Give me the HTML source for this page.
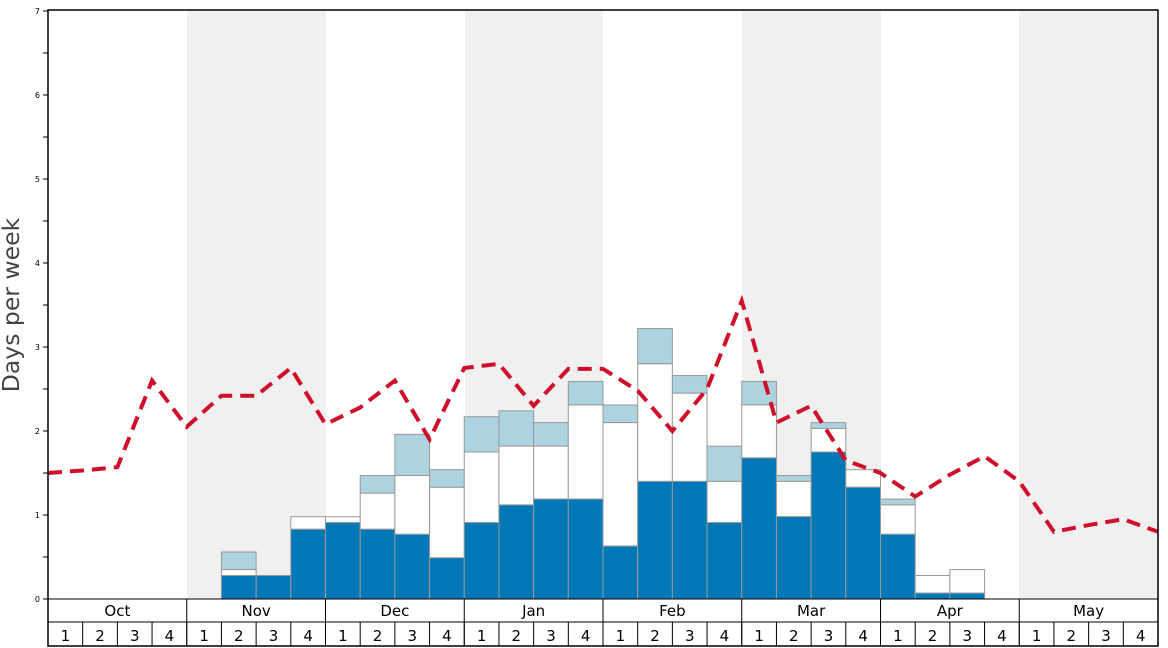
<!DOCTYPE html>
<html><head><meta charset="utf-8"><style>body{margin:0;background:#fff}svg{display:block}</style></head><body>
<svg width="1168" height="648" viewBox="0 0 1168 648" xmlns="http://www.w3.org/2000/svg" font-family="DejaVu Sans, Liberation Sans, sans-serif">
<rect width="1168" height="648" fill="#fff"/>
<g fill="#f0f0f0">
<rect x="187" y="10" width="139" height="589"/><rect x="465" y="10" width="138" height="589"/>
<rect x="742" y="10" width="139" height="589"/><rect x="1019" y="10" width="139" height="589"/>
</g>
<g id="bars" stroke="#999" stroke-width="1"></g>
<polyline id="line" fill="none" stroke="#d0102a" stroke-width="4" stroke-dasharray="14,8"/>
<rect x="48" y="10" width="1110" height="636" fill="none" stroke="#000" stroke-width="1.5"/>
<line x1="48" y1="599" x2="1158" y2="599" stroke="#000"/>
<line x1="48" y1="622" x2="1158" y2="622" stroke="#000"/>
<g id="ticks" stroke="#000"></g>
<g id="labels" font-size="8" text-anchor="end"></g>
<g id="xl" font-size="15" text-anchor="middle"></g>
<text transform="translate(19,305) rotate(-90)" font-size="23.5" fill="#444" text-anchor="middle">Days per week</text>
<script>
var ns="http://www.w3.org/2000/svg",W=1110/32,Y=v=>599-v*84;
function el(p,t,a,txt){var e=document.createElementNS(ns,t);for(var k in a)e.setAttribute(k,a[k]);if(txt)e.textContent=txt;document.getElementById(p).appendChild(e);}
var d={5:[.28,.35,.56],6:[.28],7:[.83,.98],8:[.91,.98],9:[.83,1.26,1.47],10:[.77,1.47,1.96],11:[.49,1.33,1.54],12:[.91,1.75,2.17],13:[1.12,1.82,2.24],14:[1.19,1.82,2.10],15:[1.19,2.31,2.59],16:[.63,2.10,2.31],17:[1.40,2.80,3.22],18:[1.40,2.45,2.66],19:[.91,1.40,1.82],20:[1.68,2.31,2.59],21:[.98,1.40,1.47],22:[1.75,2.03,2.10],23:[1.33,1.54],24:[.77,1.12,1.19],25:[.07,.28],26:[.07,.35]};
for(var i in d){var x=48+i*W,v=d[i];
 if(v[2])el("bars","rect",{x:x,y:Y(v[2]),width:W,height:Y(v[1])-Y(v[2]),fill:"#add3e0"});
 if(v[1])el("bars","rect",{x:x,y:Y(v[1]),width:W,height:Y(v[0])-Y(v[1]),fill:"#fdfdfb"});
 el("bars","rect",{x:x,y:Y(v[0]),width:W,height:v[0]*84,fill:"#0077b6"});}
var L=[1.5,1.53,1.57,2.6,2.05,2.42,2.42,2.75,2.08,2.28,2.6,1.9,2.75,2.8,2.3,2.74,2.74,2.48,2.0,2.5,3.55,2.1,2.3,1.65,1.5,1.22,1.48,1.7,1.4,.8,.88,.95,.8];
document.getElementById("line").setAttribute("points",L.map((v,k)=>(48+k*W)+","+Y(v)).join(" "));
for(var t=0;t<=14;t++){var y=Y(t/2);el("ticks","line",{x1:43,y1:y,x2:48,y2:y});if(t%2==0)el("labels","text",{x:40,y:y+3},""+t/2);}
var M=["Oct","Nov","Dec","Jan","Feb","Mar","Apr","May"];
for(var m=0;m<8;m++){var x=48+m*4*W;el("ticks","line",{x1:x,y1:599,x2:x,y2:646});el("xl","text",{x:x+2*W,y:616},M[m]);
 for(var w=0;w<4;w++){var xx=x+w*W;el("ticks","line",{x1:xx,y1:622,x2:xx,y2:646});el("xl","text",{x:xx+W/2,y:641},""+(w+1));}}
</script>
</svg>
</body></html>
